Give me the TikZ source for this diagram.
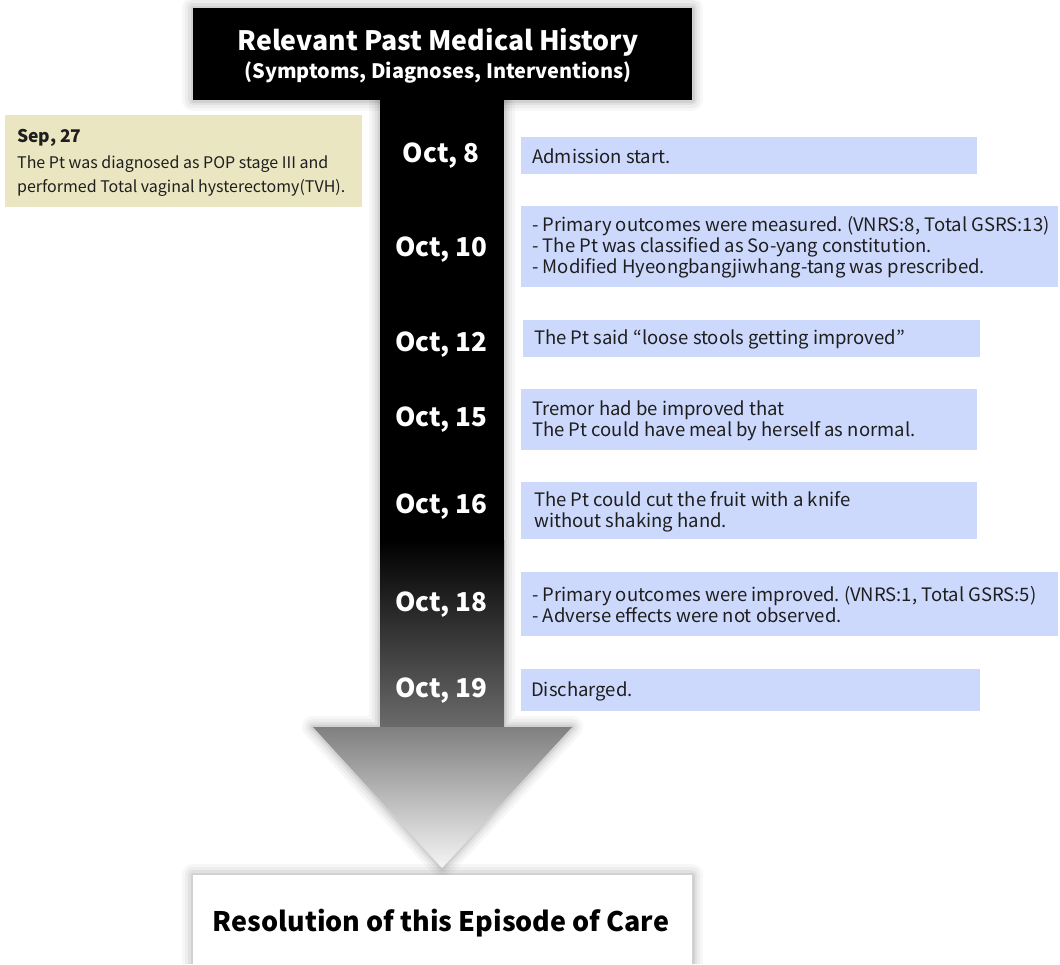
\documentclass[tikz,border=0pt]{standalone}
\usepackage{fontspec}
\setmainfont{Noto Sans CJK KR}
\frenchspacing
\definecolor{boxblue}{HTML}{CDD9FC}
\definecolor{beige}{HTML}{EAE6C1}
\definecolor{txt}{HTML}{1E1E1E}
\begin{document}
\begin{tikzpicture}[x=1pt,y=-1pt,
  datelbl/.style={text=white, font=\bfseries\fontsize{26}{30}\selectfont, anchor=base, inner sep=0pt},
  evbox/.style={fill=boxblue, anchor=north west, inner sep=0pt, outer sep=0pt},
  evtext/.style={anchor=west, align=left, inner sep=0pt, text=txt, font=\fontsize{18.5}{21}\selectfont},
  septxt/.style={anchor=base west, text=txt, inner sep=0pt, font=\fontsize{16}{20}\selectfont},
  glow/.style={draw=black, line join=round, fill=none}]
\useasboundingbox (0,0) rectangle (1060,964);

% ---- soft glows
\foreach \w/\o in {22/0.03,16/0.04,10/0.05,5/0.07}{
  \draw[glow, line width=\w pt, opacity=\o] (380,100) -- (380,727) -- (313,727) -- (442,868) -- (572,727) -- (504,727) -- (504,100);
  \draw[glow, line width=\w pt, opacity=\o] (193,8) rectangle (692,100);
  \draw[glow, line width=\w pt, opacity=\o] (193,964) -- (193,875) -- (692,875) -- (692,964);
}

% ---- arrow
\fill[black] (380,99) rectangle (504,541);
\shade[top color=black, bottom color=black!58] (380,540) rectangle (504,728);
\shade[top color=black!50, bottom color=black!4] (313,727) -- (572,727) -- (442,868) -- cycle;

% ---- header
\node[fill=black, minimum width=499pt, minimum height=92pt, inner sep=0pt, outer sep=0pt] (hdr) at (442.5,54) {};
\node[anchor=base, text=white, font=\bfseries\fontsize{26.7}{30}\selectfont, inner sep=0pt] (hdr1) at (438,50) {Relevant Past Medical History};
\node[anchor=base, text=white, font=\bfseries\fontsize{19.9}{22}\selectfont, inner sep=0pt] (hdr2) at (438,78) {(Symptoms, Diagnoses, Interventions)};

% ---- bottom box
\node[fill=white, minimum width=499pt, minimum height=89pt, inner sep=0pt, outer sep=0pt, anchor=north west] (res) at (193,875) {};
\node[anchor=base, text=black, font=\bfseries\fontsize{26.9}{30}\selectfont, inner sep=0pt] (restxt) at (441,931) {Resolution of this Episode of Care};

% ---- Sep 27 box
\node[fill=beige, minimum width=357pt, minimum height=92pt, inner sep=0pt, outer sep=0pt, anchor=north west] (sep) at (5,115) {};
\node[anchor=base west, text=txt, font=\bfseries\fontsize{17.5}{20}\selectfont, inner sep=0pt] (septitle) at (17,142) {Sep, 27};
\node[septxt] (sepl1) at (17,168) {The Pt was diagnosed as POP stage III and};
\node[septxt] (sepl2) at (17,192) {performed Total vaginal hysterectomy(TVH).};

% ---- dates
\node[datelbl] (d1) at (441,162) {Oct, 8};
\node[datelbl] (d2) at (441,256) {Oct, 10};
\node[datelbl] (d3) at (441,351) {Oct, 12};
\node[datelbl] (d4) at (441,426) {Oct, 15};
\node[datelbl] (d5) at (441,513) {Oct, 16};
\node[datelbl] (d6) at (441,611) {Oct, 18};
\node[datelbl] (d7) at (441,697) {Oct, 19};

% ---- event boxes
\node[evbox, minimum width=456pt, minimum height=37pt] (b1) at (521,137) {};
\node[evtext] (t1) at ([xshift=11pt,yshift=-1pt]b1.west) {Admission start.};
\node[evbox, minimum width=537pt, minimum height=81pt] (b2) at (521,206) {};
\node[evtext] (t2) at ([xshift=11pt,yshift=-1pt]b2.west) {- Primary outcomes were measured. (VNRS:8, Total GSRS:13)\\- The Pt was classified as So-yang constitution.\\- Modified Hyeongbangjiwhang-tang was prescribed.};
\node[evbox, minimum width=457pt, minimum height=37pt] (b3) at (523,320) {};
\node[evtext] (t3) at ([xshift=11pt,yshift=-1pt]b3.west) {The Pt said “loose stools getting improved”};
\node[evbox, minimum width=456pt, minimum height=61pt] (b4) at (521,389) {};
\node[evtext] (t4) at ([xshift=11pt,yshift=-1pt]b4.west) {Tremor had be improved that\\The Pt could have meal by herself as normal.};
\node[evbox, minimum width=456pt, minimum height=57pt] (b5) at (521,482) {};
\node[evtext] (t5) at ([xshift=13pt,yshift=-1pt]b5.west) {The Pt could cut the fruit with a knife\\without shaking hand.};
\node[evbox, minimum width=537pt, minimum height=64pt] (b6) at (521,572) {};
\node[evtext] (t6) at ([xshift=11pt,yshift=-1pt]b6.west) {- Primary outcomes were improved. (VNRS:1, Total GSRS:5)\\- Adverse effects were not observed.};
\node[evbox, minimum width=459pt, minimum height=42pt] (b7) at (521,669) {};
\node[evtext] (t7) at ([xshift=10pt,yshift=-1pt]b7.west) {Discharged.};
\end{tikzpicture}
\end{document}
